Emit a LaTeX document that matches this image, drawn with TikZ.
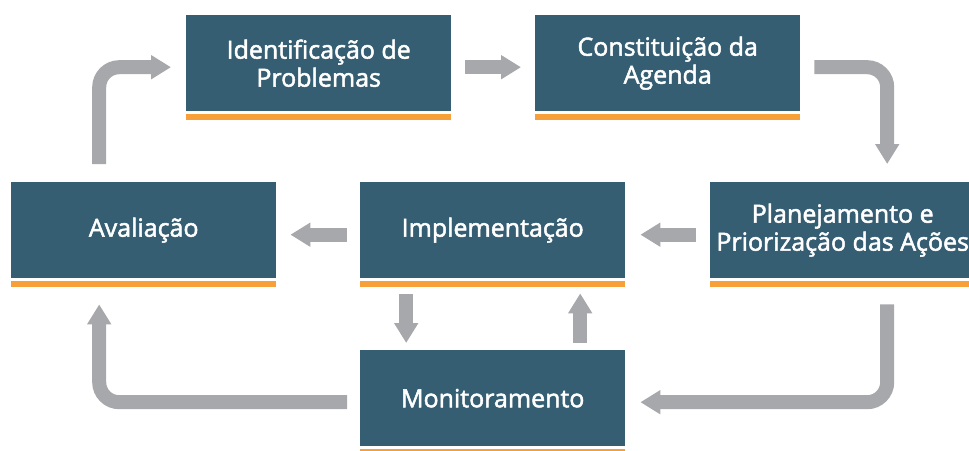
\documentclass[tikz,border=0pt]{standalone}
\usepackage{fontspec}
\setmainfont{Open Sans}
\newfontfamily\boxfont{Open Sans}[FakeBold=2]
\usetikzlibrary{arrows.meta}
\tikzset{
  etapa/.style={fill=MyTeal, text=white, minimum width=265, minimum height=96,
    inner sep=0pt, anchor=north west, align=center,
    font=\boxfont\fontsize{25}{28}\selectfont},
  flow/.style={draw=MyGray, line width=14pt, rounded corners=20pt,
    -{Triangle[length=20pt, width=23pt]}}
}
\begin{document}
\begin{tikzpicture}[x=1pt, y=-1pt]
\definecolor{MyTeal}{RGB}{53, 94, 115}
\definecolor{MyOrange}{RGB}{247, 160, 58}
\definecolor{MyGray}{RGB}{167, 168, 171}
\useasboundingbox (0,0) rectangle (969,450);
\node[etapa] (ident) at (186,15) {Identificação de\\Problemas};
\node[etapa] (agenda) at (535,15) {Constituição da\\Agenda};
\node[etapa] (aval) at (11,182) {Avaliação};
\node[etapa] (impl) at (360,182) {Implementação};
\node[etapa] (plan) at (710,182) {Planejamento e\\Priorização das Ações};
\node[etapa] (monit) at (360,350) {Monitoramento};
\foreach \n in {ident, agenda, aval, impl, plan, monit}{
\fill[MyOrange] ([yshift=-3pt]\n.south west) rectangle ([yshift=-9pt]\n.south east);
}
\draw[flow] ([xshift=-44.5pt, yshift=18pt]aval.north) |- ([xshift=-15pt, yshift=-4pt]ident.west);
\draw[flow] ([xshift=14pt, yshift=-4pt]ident.east) -- ([xshift=-14pt, yshift=-4pt]agenda.west);
\draw[flow] ([xshift=14pt, yshift=-4pt]agenda.east) -| ([xshift=44.5pt, yshift=18pt]plan.north);
\draw[flow] ([xshift=-14pt, yshift=-4.5pt]plan.west) -- ([xshift=15pt, yshift=-4.5pt]impl.east);
\draw[flow] ([xshift=-13pt, yshift=-4.5pt]impl.west) -- ([xshift=14pt, yshift=-4.5pt]aval.east);
\draw[flow] ([xshift=-86.5pt, yshift=-16pt]impl.south) -- ([xshift=-86.5pt, yshift=7pt]monit.north);
\draw[flow] ([xshift=87.5pt, yshift=7pt]monit.north) -- ([xshift=87.5pt, yshift=-15pt]impl.south);
\draw[flow] ([xshift=44.5pt, yshift=-26pt]plan.south) |- ([xshift=15pt, yshift=-4pt]monit.east);
\draw[flow] ([xshift=-13pt, yshift=-4pt]monit.west) -| ([xshift=-44.5pt, yshift=-26pt]aval.south);
\end{tikzpicture}
\end{document}
